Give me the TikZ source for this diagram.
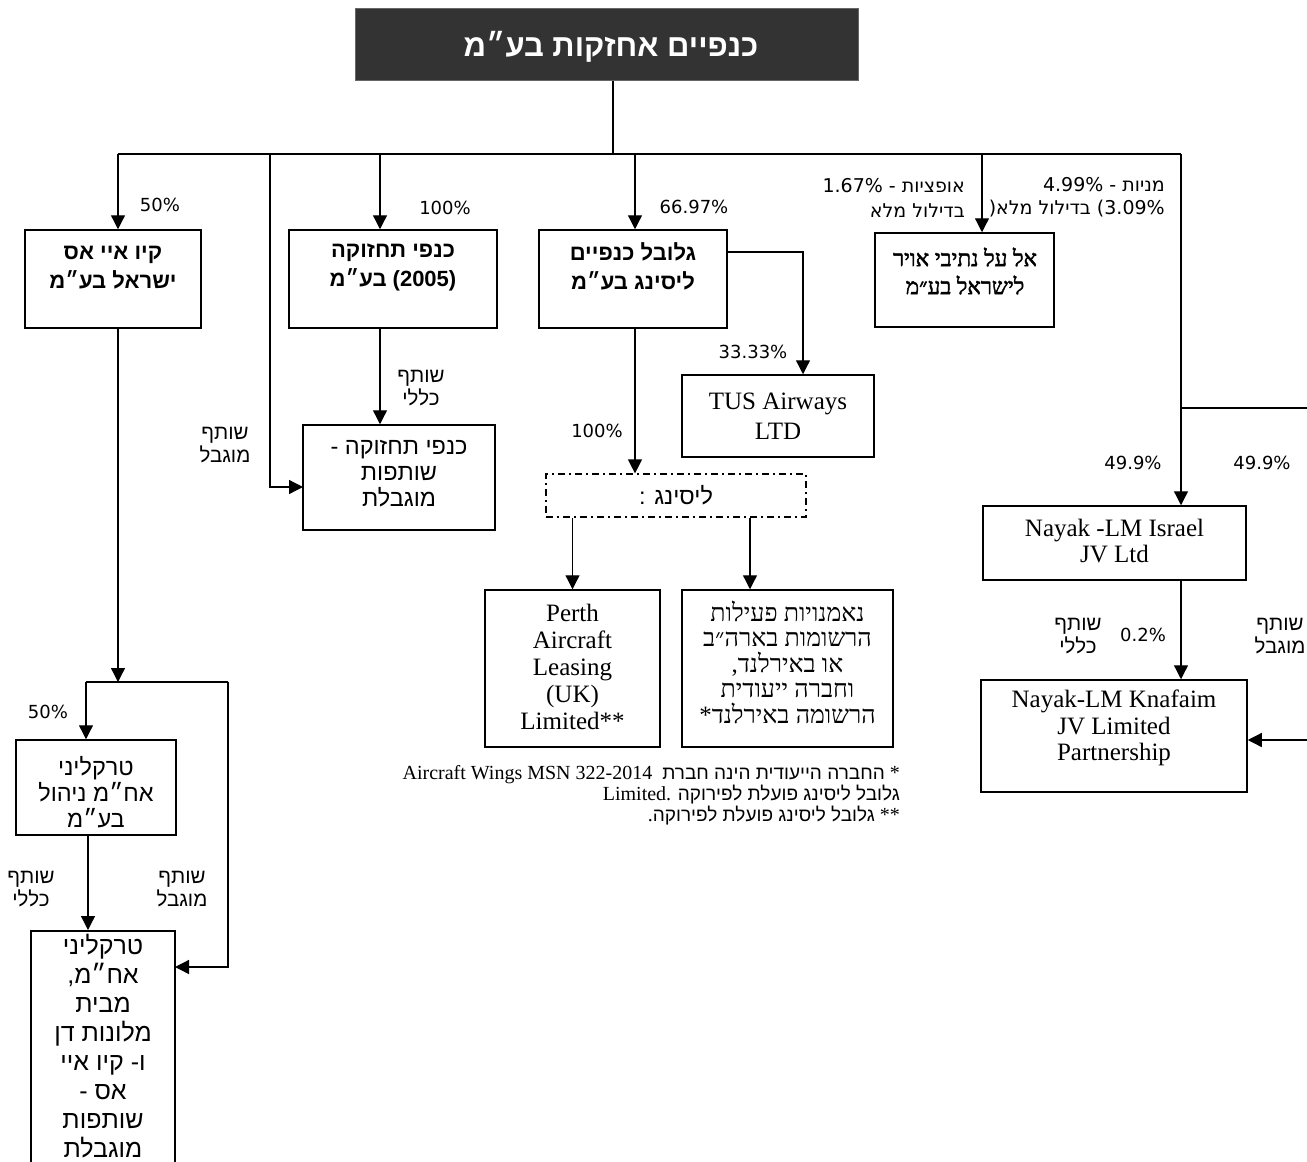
\documentclass[tikz,border=0pt]{standalone}
\usepackage{fontspec}
\usetikzlibrary{arrows.meta}
\setmainfont{Liberation Serif}
\newfontfamily\hsans[Script=Hebrew]{Liberation Sans}
\newfontfamily\hserif[Script=Hebrew]{Liberation Serif}
\newfontfamily\hserifb[Script=Hebrew,FakeBold=2]{Liberation Serif}
\newfontfamily\dvs[Script=Hebrew]{DejaVu Sans}
\newfontfamily\lser{Liberation Serif}
\TeXXeTstate=1
\newcommand\RL[1]{\beginR #1\endR}
\definecolor{darkfill}{HTML}{333333}
\begin{document}
\begin{tikzpicture}[x=1pt,y=-1pt,
  box/.style={draw, line width=1.5pt, inner sep=0pt},
  conn/.style={line width=1.3pt},
  arr/.style={line width=1.3pt, -{Triangle[length=14pt,width=14pt]}},
  pct/.style={font=\dvs\fontsize{18}{20}\selectfont, inner sep=0pt},
  hlab/.style={font=\hsans\fontsize{20.5}{23}\selectfont, align=center, inner sep=0pt},
  hbold/.style={font=\hsans\bfseries\fontsize{22}{29}\selectfont, align=center, inner sep=0pt},
  hbody/.style={font=\hsans\fontsize{23.5}{26}\selectfont, align=center, inner sep=0pt},
  lat/.style={font=\lser\fontsize{25}{27}\selectfont, align=center, inner sep=0pt},
]
\useasboundingbox (0,0) rectangle (1307,1162);
% boxes
\node[box, fill=darkfill, draw=black!60, line width=1pt, minimum width=503, minimum height=72] (title) at (606.5,44) {};
\node[box, minimum width=176, minimum height=98] (b1) at (113,279) {};
\node[box, minimum width=208, minimum height=98] (b2) at (393,279) {};
\node[box, minimum width=188, minimum height=98] (b3) at (633,279) {};
\node[box, minimum width=179, minimum height=94] (b4) at (964.5,280) {};
\node[box, minimum width=192, minimum height=82] (tus) at (778,416) {};
\node[box, minimum width=192, minimum height=105] (lp) at (399,477.5) {};
\node[box, line width=1.2pt, dash pattern=on 7pt off 4pt on 2pt off 4pt, minimum width=260, minimum height=43] (lease) at (676,495.5) {};
\node[box, minimum width=175, minimum height=157] (perth) at (572.5,668.5) {};
\node[box, minimum width=211, minimum height=157] (trust) at (787.5,668.5) {};
\node[box, minimum width=263, minimum height=74] (nyi) at (1114.5,543) {};
\node[box, minimum width=266, minimum height=112] (nkf) at (1114,736) {};
\node[box, minimum width=160, minimum height=95] (b5) at (96,787.5) {};
\node[box, minimum width=144, minimum height=260, anchor=north] (b6) at (103,930) {};
% texts
\node[font=\hsans\bfseries\fontsize{31}{36}\selectfont, text=white, inner sep=0pt] (ttl) at (611,47) {\RL{כנפיים אחזקות בע״מ}};
\node[hbold] (t1) at (113,267.5) {\RL{קיו איי אס}\\\RL{ישראל בע״מ}};
\node[hbold] (t2) at (393,267.5) {\RL{כנפי תחזוקה}\\\RL{(2005) בע״מ}};
\node[hbold] (t3) at (633,266.5) {\RL{גלובל כנפיים}\\\RL{ליסינג בע״מ}};
\node[hbold, font=\hserifb\fontsize{22.5}{28}\selectfont] (t4) at (965,271) {\RL{אל על נתיבי אויר}\\\RL{לישראל בע״מ}};
\node[lat, font=\lser\fontsize{25}{30}\selectfont] (t5) at (778,416) {TUS Airways\\LTD};
\node[hbody] (t6) at (399,474) {- \RL{כנפי תחזוקה}\\\RL{שותפות}\\\RL{מוגבלת}};
\node[hbody] (t7) at (676,495) {: \RL{ליסינג}};
\node[lat] (t8) at (572.5,667) {Perth\\Aircraft\\Leasing\\(UK)\\Limited**};
\node[hbody, font=\hserif\fontsize{25}{25.5}\selectfont] (t9) at (787.5,662) {\RL{נאמנויות פעילות}\\\RL{הרשומות בארה״ב}\\,\RL{או באירלנד}\\\RL{וחברה ייעודית}\\*\RL{הרשומה באירלנד}};
\node[lat, font=\lser\fontsize{25}{26}\selectfont] (t10) at (1114.5,541) {Nayak -LM Israel\\JV Ltd};
\node[lat, font=\lser\fontsize{25}{26.5}\selectfont] (t11) at (1114,728) {Nayak-LM Knafaim\\JV Limited\\Partnership};
\node[hbody] (t12) at (96,792) {\RL{טרקליני}\\\RL{אח״מ ניהול}\\\RL{בע״מ}};
\node[hbody, font=\hsans\fontsize{25}{29}\selectfont] (t13) at (103,1046) {\RL{טרקליני}\\,\RL{אח״מ}\\\RL{מבית}\\\RL{מלונות דן}\\\RL{ו- קיו איי}\\- \RL{אס}\\\RL{שותפות}\\\RL{מוגבלת}};
% percent labels
\node[pct] (p1) at (160,205) {50\%};
\node[pct] (p2) at (445,208) {100\%};
\node[pct] (p3) at (694,207) {66.97\%};
\node[pct] (p4) at (753,352) {33.33\%};
\node[pct] (p5) at (597,431) {100\%};
\node[pct] (p6) at (1133,463) {49.9\%};
\node[pct] (p7) at (1262,463) {49.9\%};
\node[pct] (p8) at (1143,635) {0.2\%};
\node[pct] (p9) at (48,712) {50\%};
% partner labels
\node[hlab] (l1) at (421,388) {\RL{שותף}\\\RL{כללי}};
\node[hlab] (l2) at (225,445) {\RL{שותף}\\\RL{מוגבל}};
\node[hlab] (l3) at (31,889) {\RL{שותף}\\\RL{כללי}};
\node[hlab] (l4) at (182,889) {\RL{שותף}\\\RL{מוגבל}};
\node[hlab] (l5) at (1078,636) {\RL{שותף}\\\RL{כללי}};
\node[hlab] (l6) at (1280,636) {\RL{שותף}\\\RL{מוגבל}};
% top-right labels
\node[font=\dvs\fontsize{19}{25}\selectfont, align=right, anchor=east, inner sep=0pt] (o1) at (965,198) {1.67\% - \RL{אופציות}\\\RL{בדילול מלא}};
\node[font=\dvs\fontsize{19}{23}\selectfont, align=right, anchor=east, inner sep=0pt] (o2) at (1165,197) {4.99\% - \RL{מניות}\\(\RL{בדילול מלא} 3.09\%)};
% footnote
\node[font=\lser\fontsize{20}{21}\selectfont, align=right, anchor=north east, inner sep=0pt] (fn) at (900,765) {Aircraft Wings MSN 322-2014\ \ {\hsans\fontsize{19}{21}\selectfont\RL{החברה הייעודית הינה חברת}} *\\Limited. {\hsans\fontsize{19}{21}\selectfont\RL{גלובל ליסינג פועלת לפירוקה}}\\.{\hsans\fontsize{19}{21}\selectfont\RL{גלובל ליסינג פועלת לפירוקה}} **};
% coordinates
\coordinate (busL) at (118,154);
\coordinate (busR) at (1181,154);
\coordinate (busT) at (613,154);
\coordinate (j270) at (270,154);
\coordinate (j380) at (380,154);
\coordinate (j635) at (635,154);
\coordinate (j982) at (982,154);
\coordinate (jr) at (1181,408);
\coordinate (edgeR) at (1307,408);
\coordinate (edgeR2) at (1307,740);
\coordinate (k803) at (803,252);
\coordinate (lpin) at (303,487);
\coordinate (j750) at (750,550);
\coordinate (k118) at (118,682);
\coordinate (k86) at (86,682);
\coordinate (k228) at (228,682);
\coordinate (b6in) at (175,967);
\coordinate (k88) at (88,880);
% connectors
\draw[conn] (busT |- title.south) -- (busT);
\draw[conn] (busL) -- (busR);
\draw[arr] (busL) -- (busL |- b1.north);
\draw[arr] (j270) |- (lpin);
\draw[arr] (j380) -- (j380 |- b2.north);
\draw[arr] (j635) -- (j635 |- b3.north);
\draw[arr] (j982) -- (j982 |- b4.north);
\draw[arr] (busR) -- (busR |- nyi.north);
\draw[conn] (jr) -- (edgeR);
\draw[arr] (edgeR2) -- (edgeR2 -| nkf.east);
\draw[arr] (busR |- nyi.south) -- (busR |- nkf.north);
\draw[arr] (b3.east |- k803) -- (k803) -- (k803 |- tus.north);
\draw[arr] (j635 |- b3.south) -- (j635 |- lease.north);
\draw[arr] (lease.south -| perth.north) -- (perth.north);
\draw[arr] (j750 |- lease.south) -- (j750 |- trust.north);
\draw[arr] (j380 |- b2.south) -- (j380 |- lp.north);
\draw[arr] (busL |- b1.south) -- (k118);
\draw[conn] (k86) -- (k228);
\draw[arr] (k86) -- (k86 |- b5.north);
\draw[arr] (k228) |- (b6in);
\draw[arr] (k88 |- b5.south) -- (k88 |- b6.north);
\end{tikzpicture}
\end{document}
